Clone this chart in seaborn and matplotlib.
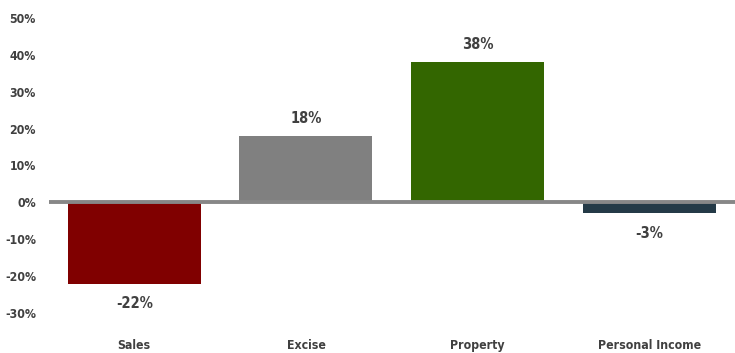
import numpy as np
import pandas as pd
import seaborn as sns
import matplotlib.pyplot as plt
from matplotlib.ticker import FuncFormatter

# chart data
categories = ["Sales", "Excise", "Property", "Personal Income"]
changes = [-0.22, 0.18, 0.38, -0.03]
bar_colors = ["#800000", "#808080", "#336600", "#243a47"]

df = pd.DataFrame({"category": categories, "change": changes})

sns.set_style("white")
plt.rcParams["font.family"] = ["DejaVu Sans"]
plt.rcParams["font.stretch"] = "condensed"
plt.rcParams["font.weight"] = "bold"

fig = plt.figure(figsize=(7.35, 3.53), dpi=100)
ax = fig.add_axes([48.5 / 735, 40 / 353, 1 - 48.5 / 735, 295 / 353])

sns.barplot(data=df, x="category", y="change", hue="category",
            palette=bar_colors, width=0.775, saturation=1, legend=False,
            linewidth=0, ax=ax)

# zero line
ax.axhline(0, color="#878787", lw=2.8, zorder=5)

ax.set_ylim(-0.3, 0.5)
ax.set_xlim(-0.5, 3.5)
ax.set_yticks(np.arange(-0.3, 0.51, 0.1))
ax.yaxis.set_major_formatter(FuncFormatter(lambda v, p: f"{v * 100:.0f}%"))
ax.set_xlabel("")
ax.set_ylabel("")
ax.tick_params(axis="y", length=0, labelsize=8.8, labelcolor="#404040", pad=9)
ax.tick_params(axis="x", length=0, labelsize=8.8, labelcolor="#404040", pad=19)
for s in ax.spines.values():
    s.set_visible(False)

# value labels
for i, v in enumerate(changes):
    off = 0.048 if v > 0 else -0.055
    ax.text(i, v + off, f"{v * 100:.0f}%", ha="center", va="center",
            fontsize=10.5, fontweight="bold", color="#404040")

fig.savefig("out.png", dpi=100)
